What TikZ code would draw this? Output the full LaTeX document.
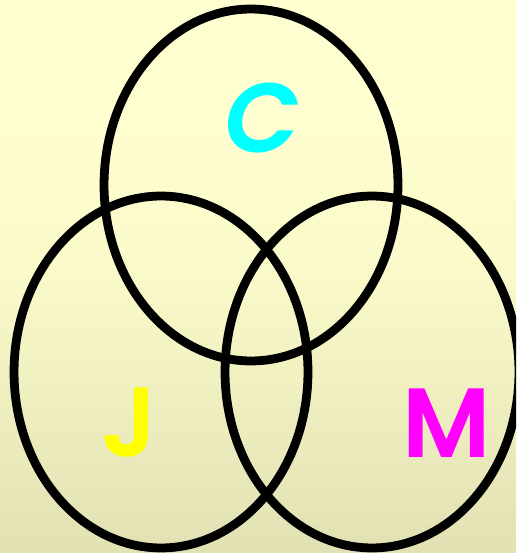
\documentclass[tikz,border=0pt]{standalone}
\usepackage{fontspec}
\usetikzlibrary{shapes.geometric}
\newfontfamily\letterfont{Poppins SemiBold}
\definecolor{paleTop}{RGB}{254,254,208}
\definecolor{paleMid}{RGB}{249,249,201}
\definecolor{paleBot}{RGB}{226,225,180}
\definecolor{letC}{RGB}{0,255,255}
\definecolor{letJ}{RGB}{255,255,0}
\definecolor{letM}{RGB}{255,0,255}
\tikzset{
  setring/.style={draw=black, line width=5pt, ellipse, inner sep=0pt,
    minimum width=5.88cm, minimum height=7.04cm},
  setletter/.style={inner sep=0pt, font={\letterfont\fontsize{56}{56}\selectfont}}
}
\begin{document}
\begin{tikzpicture}[x=0.02cm, y=-0.02cm]

\useasboundingbox (0,0) rectangle (516,553);
\clip (0,0) rectangle (516,553);
\shade [top color=paleTop, bottom color=paleBot, middle color=paleMid]
  (0,0) rectangle (516,553);
\fill [paleTop] (0,0) rectangle (516,120);
\shade [top color=paleTop, bottom color=paleMid] (0,119) rectangle (516,277);


\node [setring] (setC) at (251,185) {};

\node [setring] (setJ) at (161,372) {};

\node [setring] (setM) at (372,372) {};


\node [setletter, text=letC, font={\letterfont\fontsize{56}{56}\selectfont\itshape}]
  (labC) at (262,118) {C};

\node [setletter, text=letJ] (labJ) at (130,423) {J};

\node [setletter, text=letM] (labM) at (447,423) {M};

\end{tikzpicture}
\end{document}
